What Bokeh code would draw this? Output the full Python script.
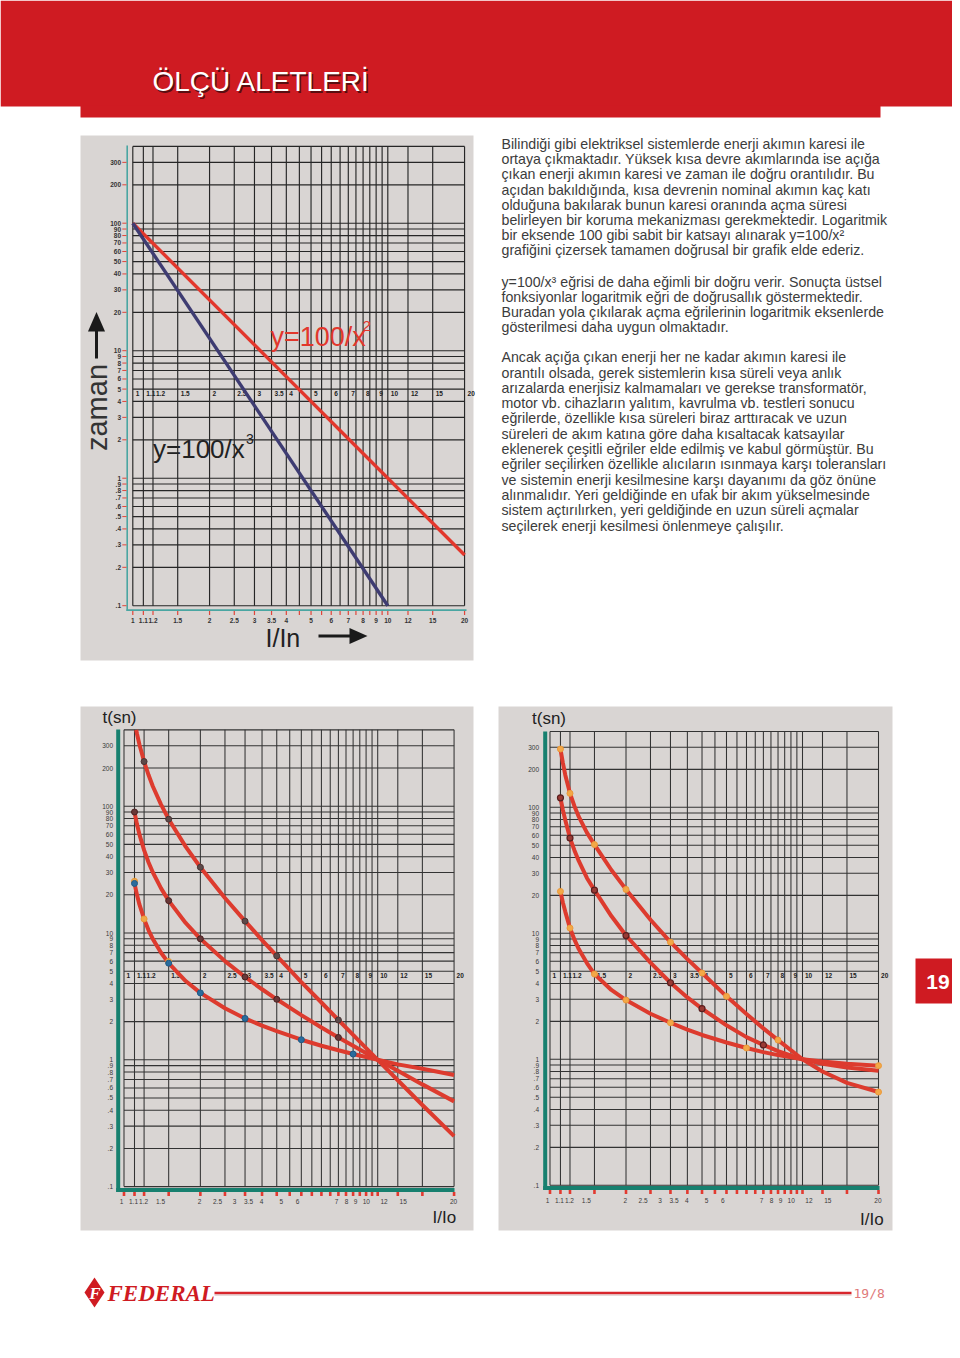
import math
from bokeh.plotting import figure
from bokeh.models import Range1d, LogScale
from bokeh.core.properties import value
from bokeh.embed import file_html
from bokeh.resources import INLINE

# ---------------- data ----------------
grid_x = [1, 1.1, 1.2, 1.5, 2, 2.5, 3, 3.5, 4, 4.5, 5, 5.5, 6, 6.5, 7, 7.5, 8, 8.5, 9, 9.5, 10, 12, 15, 20]
grid_y = [0.1, 0.2, 0.3, 0.4, 0.5, 0.6, 0.7, 0.8, 0.9, 1, 2, 3, 4, 5, 6, 7, 8, 9, 10,
          20, 30, 40, 50, 60, 70, 80, 90, 100, 200, 300, 400]
x_labels = ["1", "1.1", "1.2", "1.5", "2", "2.5", "3", "3.5", "4", "5", "6", "7", "8", "9", "10", "12", "15", "20"]
x_label_vals = [1, 1.1, 1.2, 1.5, 2, 2.5, 3, 3.5, 4, 5, 6, 7, 8, 9, 10, 12, 15, 20]
# where the printed bottom labels of the two lower charts sit (as printed, shifted)
io_label_at = [0.978, 1.09, 1.194, 1.393, 1.985, 2.336, 2.726, 3.098, 3.483, 4.17, 4.83,
               6.88, 7.54, 8.18, 9.02, 10.6, 12.6, 19.9]
y_labels = ["300", "200", "100", "90", "80", "70", "60", "50", "40", "30", "20", "10", "9", "8", "7",
            "6", "5", "4", "3", "2", "1", ".9", ".8", ".7", ".6", ".5", ".4", ".3", ".2", ".1"]
y_label_vals = [300, 200, 100, 90, 80, 70, 60, 50, 40, 30, 20, 10, 9, 8, 7, 6, 5, 4, 3, 2, 1,
                0.9, 0.8, 0.7, 0.6, 0.5, 0.4, 0.3, 0.2, 0.1]
label_row_t = 4.6

# chart 1: y = 100/x^2 and y = 100/x^3
c1_sq_x = [1, 20]
c1_sq_t = [100, 0.25]
c1_cu_x = [1, 10]
c1_cu_t = [100, 0.1]

# chart 2 curves
c2_x = [1.1, 1.125, 1.15, 1.2, 1.25, 1.3, 1.4, 1.5, 1.75, 2, 2.5, 3, 3.5, 4, 5, 6, 7, 8, 10, 12, 15, 20]
c2a_x = [1.117, 1.125, 1.15, 1.2, 1.25, 1.3, 1.4, 1.5, 1.75, 2, 2.5, 3, 3.5, 4, 5, 6, 7, 8, 10, 12, 15, 20]
c2a_t = [400, 373, 307, 225, 176, 143, 103, 79, 48, 33, 18.9, 12.4, 8.8, 6.6, 4.1, 2.83, 2.06, 1.57, 1.0, 0.69, 0.44, 0.25]
c2b_t = [90, 72, 60, 45, 36, 30, 22.5, 18, 12, 9, 6, 4.5, 3.6, 3.0, 2.25, 1.8, 1.5, 1.29, 1.0, 0.82, 0.64, 0.47]
c2c_t = [24.6, 20.0, 16.8, 12.9, 10.5, 8.95, 6.98, 5.78, 4.18, 3.37, 2.55, 2.12, 1.86, 1.68, 1.44, 1.29, 1.19, 1.11, 1.0, 0.92, 0.85, 0.76]
c2a_dot_x = [1.2, 1.5, 2, 3, 4, 7]
c2a_dot_t = [225, 79, 33, 12.4, 6.6, 2.06]
c2b_dot_x = [1.1, 1.5, 2, 3, 4, 7]
c2b_dot_t = [90, 18, 9, 4.5, 3.0, 1.5]
c2c_dot_x = [1.1, 1.5, 2, 3, 5, 8]
c2c_dot_t = [24.6, 5.78, 3.37, 2.12, 1.44, 1.11]
c2c_odot_x = [1.1, 1.2, 1.5]
c2c_odot_t = [25.6, 12.9, 5.95]

# chart 3 curves
c3_x = [1.1, 1.125, 1.15, 1.2, 1.25, 1.3, 1.4, 1.5, 1.75, 2, 2.5, 3, 3.5, 4, 5, 6, 7, 8, 10, 12, 15, 20]
c3d_t = [290, 224, 180, 129, 102, 84.3, 63, 50.6, 31.8, 22.3, 12.8, 8.5, 6.24, 4.84, 3.16, 2.29, 1.76, 1.42, 1.0, 0.80, 0.65, 0.55]
c3e_t = [119, 95, 79, 57, 45.5, 37.5, 27.5, 22, 13.7, 9.6, 5.85, 4.05, 3.1, 2.52, 1.86, 1.5, 1.3, 1.16, 1.0, 0.92, 0.86, 0.81]
c3f_t = [21.5, 17.5, 14.8, 11, 8.9, 7.5, 5.8, 4.75, 3.55, 2.95, 2.3, 1.95, 1.72, 1.56, 1.36, 1.23, 1.14, 1.08, 1.0, 0.96, 0.92, 0.89]
c3d_dot_x = [1.1, 1.2, 1.5, 2, 3, 4, 5, 8, 20]
c3d_dot_t = [290, 129, 50.6, 22.3, 8.5, 4.84, 3.16, 1.42, 0.55]
c3e_dot_x = [1.1, 1.2, 1.5, 2, 3, 4, 7]
c3e_dot_t = [119, 57, 22, 9.6, 4.05, 2.52, 1.3]
c3f_dot_x = [1.1, 1.2, 1.5, 2, 3, 6, 20]
c3f_dot_t = [21.5, 11, 4.75, 2.95, 1.95, 1.23, 0.89]

title_text = "ÖLÇÜ ALETLERİ"
para1 = [
    "Bilindiği gibi elektriksel sistemlerde enerji akımın karesi ile",
    "ortaya çıkmaktadır. Yüksek kısa devre akımlarında ise açığa",
    "çıkan enerji akımın karesi ve zaman ile doğru orantılıdır. Bu",
    "açıdan bakıldığında, kısa devrenin nominal akımın kaç katı",
    "olduğuna bakılarak bunun karesi oranında açma süresi",
    "belirleyen bir koruma mekanizması gerekmektedir. Logaritmik",
    "bir eksende 100 gibi sabit bir katsayı alınarak y=100/x²",
    "grafiğini çizersek tamamen doğrusal bir grafik elde ederiz.",
]
para2 = [
    "y=100/x³ eğrisi de daha eğimli bir doğru verir. Sonuçta üstsel",
    "fonksiyonlar logaritmik eğri de doğrusallık göstermektedir.",
    "Buradan yola çıkılarak açma eğrilerinin logaritmik eksenlerde",
    "gösterilmesi daha uygun olmaktadır.",
]
para3 = [
    "Ancak  açığa çıkan enerji her ne kadar  akımın karesi ile",
    "orantılı olsada, gerek sistemlerin kısa süreli veya anlık",
    "arızalarda enerjisiz kalmamaları ve gerekse transformatör,",
    "motor vb. cihazların yalıtım, kavrulma vb. testleri sonucu",
    "eğrilerde, özellikle kısa süreleri biraz arttıracak ve uzun",
    "süreleri de akım katına göre daha kısaltacak katsayılar",
    "eklenerek çeşitli eğriler elde edilmiş ve kabul görmüştür. Bu",
    "eğriler seçilirken özellikle alıcıların ısınmaya karşı toleransları",
    "ve sistemin enerji kesilmesine karşı dayanımı da göz önüne",
    "alınmalıdır. Yeri geldiğinde en ufak bir akım yükselmesinde",
    "sistem açtırılırken, yeri geldiğinde en uzun süreli açmalar",
    "seçilerek enerji kesilmesi önlenmeye çalışılır.",
]

# ---------------- styles ----------------
RED = "#cf1b22"
PANEL = "#d9d5d3"
CURVE = "#dd3b2e"
TEAL1 = "#4aa6a2"
TEAL2 = "#17806f"
SANS = "Liberation Sans"

PW, PH = 952, 1350
# page coordinates in reference pixels: x 0..PW, y 0..PH (top-down)
p = figure(width=PW, height=PH, output_backend="svg", toolbar_location=None,
           x_range=Range1d(0, PW), y_range=Range1d(PH, 0), min_border=0,
           x_axis_location=None, y_axis_location=None)
p.xgrid.visible = False
p.ygrid.visible = False
p.outline_line_color = None
p.background_fill_color = "white"
p.border_fill_color = "white"


def xlog(px_at_1, px_per_decade):
    return Range1d(start=10 ** ((0 - px_at_1) / px_per_decade), end=10 ** ((PW - px_at_1) / px_per_decade))


def ylog(px_at_1, px_per_decade):
    return Range1d(start=10 ** ((px_at_1 - PH) / px_per_decade), end=10 ** ((px_at_1 - 0) / px_per_decade))


p.extra_x_ranges = {"c1x": xlog(132.3, 255.0), "c2x": xlog(123.5, 253.7), "c3x": xlog(549.5, 252.5)}
p.extra_y_ranges = {"c1y": ylog(477.7, 127.5), "c2y": ylog(1059.3, 126.8), "c3y": ylog(1058.8, 126.0)}
p.extra_x_scales = {k: LogScale() for k in ["c1x", "c2x", "c3x"]}
p.extra_y_scales = {k: LogScale() for k in ["c1y", "c2y", "c3y"]}


def txt(x, y, t, size, color="#222222", align="left", baseline="middle", style="normal",
        font=SANS, xr="default", yr="default", angle=0.0, xoff=0):
    p.text(x=x, y=y, text=t, text_font=value(font), text_font_size=size, text_color=color,
           text_align=align, text_baseline=baseline, text_font_style=style,
           x_range_name=xr, y_range_name=yr, angle=angle, x_offset=xoff)


# ---------------- header ----------------
p.quad(left=[0], right=[960], top=[0], bottom=[106], fill_color=RED, line_color=None)
p.quad(left=[80], right=[880], top=[105], bottom=[117], fill_color=RED, line_color=None)
txt([153.5], [82.5], [title_text], "28px", color="#5a0d10")
txt([152], [81], [title_text], "28px", color="white")

# ---------------- panels ----------------
p.quad(left=[80, 80, 498], right=[473, 473, 892], top=[135, 706, 706], bottom=[660, 1230, 1230],
       fill_color=PANEL, line_color=None)


def draw_grid(xr, yr, color, width):
    n = len(grid_x)
    m = len(grid_y)
    p.segment(x0=grid_x, x1=grid_x, y0=[0.1] * n, y1=[400] * n, line_color=color, line_width=width,
              x_range_name=xr, y_range_name=yr)
    p.segment(x0=[1] * m, x1=[20] * m, y0=grid_y, y1=grid_y, line_color=color, line_width=width,
              x_range_name=xr, y_range_name=yr)


# ---------------- chart 1 ----------------
draw_grid("c1x", "c1y", "#262626", 1.15)
p.segment(x0=[126.7, 126], y0=[145, 609.6], x1=[126.7, 466], y1=[610.5, 609.6], line_color=TEAL1, line_width=1.6)
p.segment(x0=grid_x, x1=grid_x, y0=[610.5] * len(grid_x), y1=[614.5] * len(grid_x),
          line_color="#e0453a", line_width=1.2, x_range_name="c1x")
p.segment(x0=[121.8] * len(y_label_vals), x1=[126] * len(y_label_vals), y0=y_label_vals, y1=y_label_vals,
          line_color="#e0453a", line_width=1.0, y_range_name="c1y")
txt([120.5] * len(y_labels), y_label_vals, y_labels, "6.5px", color="#333333", align="right", style="bold",
    yr="c1y")
txt(x_label_vals, [label_row_t] * len(x_labels), x_labels, "6.5px", color="#222222", style="bold",
    xr="c1x", yr="c1y", xoff=3)
txt(x_label_vals, [619.5] * len(x_labels), x_labels, "6.5px", color="#333333", align="center", style="bold",
    xr="c1x")
p.line(c1_sq_x, c1_sq_t, line_color="#e2372c", line_width=3.4, x_range_name="c1x", y_range_name="c1y")
p.line(c1_cu_x, c1_cu_t, line_color="#3e3c72", line_width=3.4, x_range_name="c1x", y_range_name="c1y")

txt([270], [336], ["y=100/x"], "27px", color="#e2372c")
txt([362], [325], ["2"], "15px", color="#e2372c")
txt([152.5], [448], ["y=100/x"], "26px", color="#222222")
txt([245.5], [438], ["3"], "14px", color="#222222")

txt([96], [407], ["zaman"], "29px", color="#333333", align="center", angle=math.pi / 2)
p.segment(x0=[96], y0=[328], x1=[96], y1=[358], line_color="#1a1a1a", line_width=3)
p.patch(x=[96, 87.5, 104.5], y=[311.5, 331, 331], fill_color="#1a1a1a", line_color=None)
txt([265], [637.5], ["I/In"], "25px", color="#222222")
p.segment(x0=[318], y0=[635.5], x1=[352], y1=[635.5], line_color="#1a1a1a", line_width=3)
p.patch(x=[367, 349, 349], y=[635.5, 627.5, 643.5], fill_color="#1a1a1a", line_color=None)


# ---------------- charts 2 & 3 ----------------
def lower_chart(xr, yr, teal_x, y_top, teal_y, x_right, ylab_x, bot_lab_y):
    draw_grid(xr, yr, "#333333", 1.05)
    p.segment(x0=[teal_x, teal_x - 2], y0=[y_top, teal_y], x1=[teal_x, x_right], y1=[teal_y + 2, teal_y],
              line_color=TEAL2, line_width=4)
    p.segment(x0=grid_x, x1=grid_x, y0=[teal_y + 2] * len(grid_x), y1=[teal_y + 6] * len(grid_x),
              line_color="#e23a30", line_width=2.6, x_range_name=xr)
    txt([ylab_x] * len(y_labels), y_label_vals, y_labels, "6.5px", color="#3a3a3a", align="right", yr=yr)
    txt(x_label_vals, [label_row_t] * len(x_labels), x_labels, "6.5px", color="#222222", style="bold",
        xr=xr, yr=yr, xoff=2.5)
    txt(io_label_at, [bot_lab_y] * len(x_labels), x_labels, "6.5px", color="#3a3a3a", align="center", xr=xr)


lower_chart("c2x", "c2y", 117.7, 729, 1189.5, 454, 112.5, 1200.5)
lower_chart("c3x", "c3y", 544.7, 731, 1187.5, 879, 538.5, 1199.5)

txt([102], [717], ["t(sn)"], "17px", color="#222222")
txt([531.5], [718], ["t(sn)"], "17px", color="#222222")
txt([432], [1217], ["I/Io"], "17px", color="#222222")
txt([859.5], [1219], ["I/Io"], "17px", color="#222222")

for xs, ts in [(c2a_x, c2a_t), (c2_x, c2b_t), (c2_x, c2c_t)]:
    p.line(xs, ts, line_color=CURVE, line_width=4, x_range_name="c2x", y_range_name="c2y")
p.scatter(c2a_dot_x, c2a_dot_t, size=6, fill_color="#5d4a4a", line_color="#4a3434", x_range_name="c2x", y_range_name="c2y")
p.scatter(c2b_dot_x, c2b_dot_t, size=6, fill_color="#6a3838", line_color="#4a2222", x_range_name="c2x", y_range_name="c2y")
p.scatter(c2c_odot_x, c2c_odot_t, size=6, fill_color="#f0a848", line_color="#e89a38", x_range_name="c2x", y_range_name="c2y")
p.scatter(c2c_dot_x, c2c_dot_t, size=6, fill_color="#2a6c9c", line_color="#1f5a86", x_range_name="c2x", y_range_name="c2y")

for ts in [c3d_t, c3e_t, c3f_t]:
    p.line(c3_x, ts, line_color=CURVE, line_width=4, x_range_name="c3x", y_range_name="c3y")
p.scatter(c3d_dot_x, c3d_dot_t, size=6, fill_color="#f3a848", line_color="#eb9a3a", x_range_name="c3x", y_range_name="c3y")
p.scatter(c3e_dot_x, c3e_dot_t, size=6, fill_color="#9a3a34", line_color="#5a1e1e", line_width=1.2, x_range_name="c3x", y_range_name="c3y")
p.scatter(c3f_dot_x, c3f_dot_t, size=6, fill_color="#f3a848", line_color="#eb9a3a", x_range_name="c3x", y_range_name="c3y")

# ---------------- body text ----------------
def para(lines, y0, step):
    txt([501] * len(lines), [y0 + i * step for i in range(len(lines))], lines, "14.2px", color="#3c3c3c")


para(para1, 143.3, 15.24)
para(para2, 281, 15.1)
para(para3, 356.7, 15.3)

# ---------------- page tab & footer ----------------
p.quad(left=[915], right=[960], top=[958], bottom=[1003], fill_color=RED, line_color=None)
txt([937.5], [981], ["19"], "21px", color="white", align="center", style="bold")

p.segment(x0=[214], y0=[1292.5], x1=[851], y1=[1292.5], line_color="#d8262c", line_width=2.6)
p.segment(x0=[214], y0=[1294.5], x1=[851], y1=[1294.5], line_color="#c9a0a0", line_width=0.8)
p.scatter([94], [1292], marker="diamond", size=30, fill_color=RED, line_color=None)
txt([94.5], [1293], ["F"], "17px", color="white", align="center", style="bold italic", font="Liberation Serif")
txt([107], [1293], ["FEDERAL"], "23px", color=RED, style="bold italic", font="Liberation Serif")
txt([853], [1292.5], ["19/8"], "13px", color="#e07a7a", font="DejaVu Sans Mono")

open("out.html", "w").write(file_html(p, INLINE))
